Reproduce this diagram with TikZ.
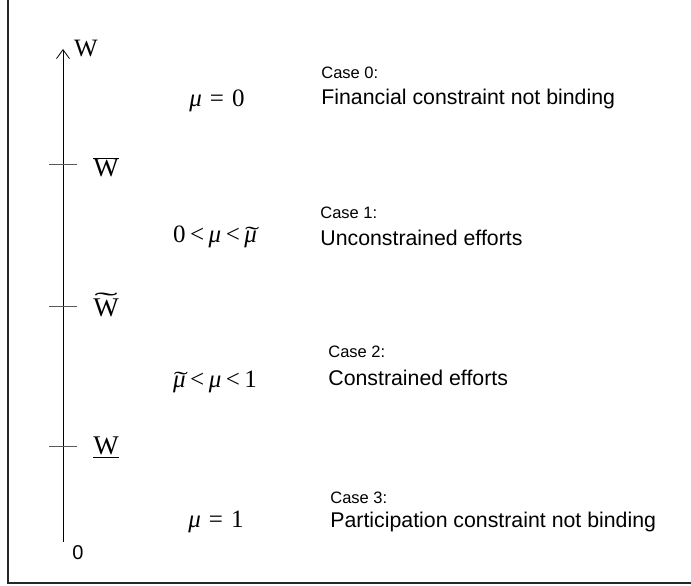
\documentclass[tikz,border=0pt]{standalone}
\usepackage{fontspec}
\setmainfont{Liberation Serif}
\setsansfont{Liberation Sans}
\usetikzlibrary{positioning,arrows.meta}

\newcommand{\mumu}{\textit{μ}}
% wide tilde over a glyph: #1 glyph, #2 raise, #3 horizontal stretch, #4 shift
\newcommand{\tilover}[4]{\leavevmode\ooalign{#1\cr\hidewidth\hspace{#4}\raisebox{#2}{\scalebox{#3}[0.85]{\char"02DC}}\hidewidth\cr}}
\newcommand{\mutil}{\tilover{\mumu}{0.04em}{1.7}{0.12em}}

\begin{document}
\begin{tikzpicture}[x=1pt, y=1pt, line width=0.8pt,
    wlabel/.style = {font=\fontsize{27}{27}\selectfont, anchor=base, inner sep=0pt},
    mulabel/.style = {font=\fontsize{25}{25}\selectfont, anchor=base, inner sep=0pt},
    casehead/.style = {font=\sffamily\fontsize{16.5}{16.5}\selectfont, anchor=base west, inner sep=0pt},
    casetext/.style = {font=\sffamily\fontsize{21.3}{21.3}\selectfont, anchor=base west, inner sep=0pt},
    tickmark/.style = {line width=0.9pt, black!65}]
            \useasboundingbox (0,0) rectangle (691,586);
            % Frame
            \draw[line width=1.6pt, black!85] (8,586) -- (8,3) -- (691,3);
            % Axis
            \coordinate (origin) at (63,44);
            \coordinate (top) at (63,537);
            \draw[-{Straight Barb[length=9pt,width=13pt]}] (origin) -- (top);
            \foreach \n/\y in {hi/422, mid/280, lo/140} {
                \coordinate (\n l) at (49,\y);
                \coordinate (\n r) at (77,\y);
                \draw[tickmark] (\n l) -- (\n r);
            }
            % Axis labels
            \node[font=\fontsize{25}{25}\selectfont] (w) at (86,537) {W};
            \node[wlabel] (wbar) at (106,409) {$\overline{\mbox{W}}$};
            \node[wlabel] (wtilde) at (106,269) {\tilover{W}{0.3em}{2.6}{0pt}};
            \node[wlabel] (wunder) at (106,131) {$\underline{\mbox{W}}$};
            \node[font=\sffamily\fontsize{20}{20}\selectfont] (zero) at (78,33) {0};
            % Multiplier ranges
            \node[mulabel] (mu0) at (217,479) {\mumu\hspace{0.32em}=\hspace{0.32em}0};
            \node[mulabel] (mu1) at (215,343) {0\hspace{0.18em}<\hspace{0.18em}\mumu\hspace{0.18em}<\hspace{0.18em}\mutil};
            \node[mulabel] (mu2) at (215,198) {\mutil\hspace{0.18em}<\hspace{0.18em}\mumu\hspace{0.18em}<\hspace{0.18em}1};
            \node[mulabel] (mu3) at (216,58) {\mumu\hspace{0.32em}=\hspace{0.32em}1};
            % Cases
            \node[casehead] (case0) at (321,507) {Case 0:};
            \node[casetext] (txt0) at (321,481) {Financial constraint not binding};
            \node[casehead] (case1) at (320,367) {Case 1:};
            \node[casetext] (txt1) at (320,340) {Unconstrained efforts};
            \node[casehead] (case2) at (328,228) {Case 2:};
            \node[casetext] (txt2) at (328,200) {Constrained efforts};
            \node[casehead] (case3) at (330,82) {Case 3:};
            \node[casetext] (txt3) at (330,58) {Participation constraint not binding};
\end{tikzpicture}
\end{document}
